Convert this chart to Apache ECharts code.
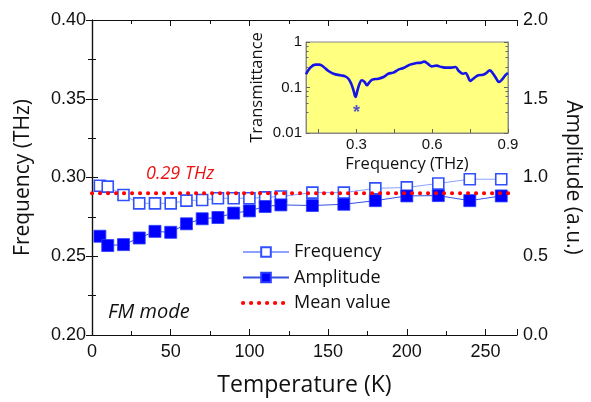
<!DOCTYPE html>
<html>
<head>
<meta charset="utf-8">
<script src="https://cdn.jsdelivr.net/npm/echarts@6/dist/echarts.min.js"></script>
<style>
html,body{margin:0;padding:0;background:#fff;}
#chart{width:591px;height:402px;}
</style>
</head>
<body>
<div id="chart"></div>
<script>
// Main chart data
var temperatures = [5, 10, 20, 30, 40, 50, 60, 70, 80, 90, 100, 110, 120, 140, 160, 180, 200, 220, 240, 260];
var frequency = [0.2948, 0.2942, 0.2889, 0.2836, 0.2836, 0.2836, 0.2853, 0.2857, 0.2868, 0.2868, 0.2868, 0.2874, 0.2879, 0.2904, 0.2904, 0.2931, 0.2937, 0.2962, 0.2989, 0.2989];
var amplitude = [0.627, 0.568, 0.574, 0.616, 0.658, 0.652, 0.706, 0.738, 0.746, 0.774, 0.788, 0.816, 0.826, 0.822, 0.830, 0.853, 0.883, 0.885, 0.853, 0.883];
var meanValue = 0.29;
var meanRange = [0, 266];
var freqTicks = [0.20, 0.25, 0.30, 0.35, 0.40];
var ampTicks = [0.0, 0.5, 1.0, 1.5, 2.0];
var tempTicks = [0, 50, 100, 150, 200, 250];

// Inset data
var insetFreq = [0.100, 0.117, 0.137, 0.153, 0.170, 0.189, 0.209, 0.236, 0.255, 0.268, 0.279, 0.288, 0.296, 0.304, 0.312, 0.321, 0.332, 0.341, 0.350, 0.363, 0.387, 0.407, 0.426, 0.446, 0.466, 0.486, 0.512, 0.538, 0.555, 0.568, 0.582, 0.597, 0.617, 0.637, 0.657, 0.676, 0.692, 0.705, 0.722, 0.732, 0.742, 0.750, 0.762, 0.782, 0.801, 0.814, 0.828, 0.841, 0.854, 0.864, 0.876, 0.889, 0.900];
var insetTrans = [0.195, 0.273, 0.318, 0.318, 0.282, 0.231, 0.201, 0.185, 0.176, 0.156, 0.121, 0.087, 0.062, 0.087, 0.121, 0.144, 0.132, 0.112, 0.128, 0.149, 0.156, 0.170, 0.201, 0.212, 0.247, 0.268, 0.318, 0.345, 0.351, 0.370, 0.334, 0.292, 0.302, 0.282, 0.273, 0.273, 0.282, 0.231, 0.201, 0.208, 0.170, 0.139, 0.156, 0.185, 0.191, 0.208, 0.238, 0.201, 0.156, 0.132, 0.149, 0.185, 0.208];
var insetXTicks = [0.3, 0.6, 0.9];
var insetXMinor = [0.15, 0.3, 0.45, 0.6, 0.75, 0.9];
var dipMark = [0.3, 0.036];

var chart = echarts.init(document.getElementById('chart'), null, {renderer: 'canvas'});

function zip(a, b) { return a.map(function (v, i) { return [v, b[i]]; }); }

var tickFont = 'Liberation Sans, Arial, sans-serif';
var titleFont = 'Open Sans, sans-serif';

var option = {
  backgroundColor: '#ffffff',
  animation: false,
  grid: [
    {left: 92, top: 20, width: 431, height: 318, containLabel: false},
    {left: 306, top: 42, width: 202, height: 91, show: true, backgroundColor: '#ffff80', borderColor: '#8a8a8a', borderWidth: 1, z: 5}
  ],
  legend: {
    orient: 'vertical',
    left: 236, top: 238,
    itemWidth: 46, itemHeight: 12, itemGap: 7.5,
    textStyle: {fontFamily: titleFont, fontSize: 18, color: '#111'},
    data: ['Frequency', 'Amplitude', {name: 'Mean value', itemStyle: {opacity: 0},
      lineStyle: {color: '#ff0000', width: 4, type: [0.1, 7.9], cap: 'round'}}]
  },
  xAxis: [
    {
      gridIndex: 0, type: 'value', min: 0, max: 270, interval: 50, position: 'bottom',
      name: 'Temperature (K)', nameLocation: 'middle', nameGap: 39,
      nameTextStyle: {fontFamily: titleFont, fontSize: 23, color: '#111'},
      axisLine: {lineStyle: {color: '#111', width: 1.2}},
      axisTick: {inside: true, length: 6, lineStyle: {color: '#111'}},
      minorTick: {show: true, splitNumber: 2, length: 4, lineStyle: {color: '#111'}},
      axisLabel: {fontFamily: tickFont, fontSize: 18, color: '#111', margin: 8,
        customValues: tempTicks},
      splitLine: {show: false}
    },
    {
      gridIndex: 0, type: 'value', min: 0, max: 270, interval: 50, position: 'top',
      axisLine: {lineStyle: {color: '#111', width: 1.2}},
      axisTick: {inside: true, length: 6, lineStyle: {color: '#111'}},
      minorTick: {show: true, splitNumber: 2, length: 4, lineStyle: {color: '#111'}},
      axisLabel: {show: false},
      splitLine: {show: false}
    },
    {
      gridIndex: 1, type: 'value', min: 0.1, max: 0.9, position: 'bottom',
      name: 'Frequency (THz)', nameLocation: 'middle', nameGap: 23,
      nameTextStyle: {fontFamily: titleFont, fontSize: 16.5, color: '#111'},
      axisLine: {lineStyle: {color: '#8a8a8a', width: 1}},
      axisTick: {inside: true, length: 4, lineStyle: {color: '#666'}, customValues: insetXMinor},
      axisLabel: {fontFamily: tickFont, fontSize: 15, color: '#111', margin: 4, customValues: insetXTicks},
      splitLine: {show: false}, z: 6
    }
  ],
  yAxis: [
    {
      gridIndex: 0, type: 'value', min: 0.2, max: 0.4, interval: 0.05, position: 'left',
      name: 'Frequency (THz)', nameLocation: 'middle', nameGap: 58, nameRotate: 90,
      nameTextStyle: {fontFamily: titleFont, fontSize: 21, color: '#111'},
      axisLine: {show: true, lineStyle: {color: '#111', width: 1.2}},
      axisTick: {inside: true, length: 6, lineStyle: {color: '#111'}},
      minorTick: {show: true, splitNumber: 2, length: 4, lineStyle: {color: '#111'}},
      axisLabel: {fontFamily: tickFont, fontSize: 18, color: '#111', margin: 6,
        customValues: freqTicks, formatter: function (v) { return v.toFixed(2); }},
      splitLine: {show: false}
    },
    {
      gridIndex: 0, type: 'value', min: 0, max: 2, interval: 0.5, position: 'right',
      name: 'Amplitude (a.u.)', nameLocation: 'middle', nameGap: 45, nameRotate: -90,
      nameTextStyle: {fontFamily: titleFont, fontSize: 21, color: '#111'},
      axisLine: {show: true, lineStyle: {color: '#111', width: 1.2}},
      axisTick: {inside: true, length: 6, lineStyle: {color: '#111'}},
      minorTick: {show: true, splitNumber: 2, length: 4, lineStyle: {color: '#111'}},
      axisLabel: {fontFamily: tickFont, fontSize: 18, color: '#111', margin: 6,
        customValues: ampTicks, formatter: function (v) { return v.toFixed(1); }},
      splitLine: {show: false}
    },
    {
      gridIndex: 1, type: 'log', min: 0.01, max: 1, logBase: 10, position: 'left',
      name: 'Transmittance', nameLocation: 'middle', nameGap: 40, nameRotate: 90,
      nameTextStyle: {fontFamily: titleFont, fontSize: 16.5, color: '#111'},
      axisLine: {show: true, lineStyle: {color: '#8a8a8a', width: 1}},
      axisTick: {inside: true, length: 4, lineStyle: {color: '#666'}},
      minorTick: {show: true, splitNumber: 5, length: 2.5, lineStyle: {color: '#666'}},
      axisLabel: {fontFamily: tickFont, fontSize: 15, color: '#111', margin: 4},
      splitLine: {show: false}, z: 6
    },
    {
      gridIndex: 1, type: 'log', min: 0.01, max: 1, logBase: 10, position: 'right',
      axisLine: {show: true, lineStyle: {color: '#8a8a8a', width: 1}},
      axisTick: {inside: true, length: 4, lineStyle: {color: '#666'}},
      minorTick: {show: true, splitNumber: 5, length: 2.5, lineStyle: {color: '#666'}},
      axisLabel: {show: false},
      splitLine: {show: false}, z: 6
    }
  ],
  series: [
    {
      name: 'Frequency', type: 'line', xAxisIndex: 0, yAxisIndex: 0,
      data: zip(temperatures, frequency),
      symbol: 'rect', symbolSize: 11,
      itemStyle: {color: '#ffffff', borderColor: '#3050ff', borderWidth: 1.6},
      lineStyle: {color: '#8da2ff', width: 1},
      z: 3
    },
    {
      name: 'Amplitude', type: 'line', xAxisIndex: 0, yAxisIndex: 1,
      data: zip(temperatures, amplitude),
      symbol: 'rect', symbolSize: 12,
      itemStyle: {color: '#0000ff', borderColor: '#2a3cff', borderWidth: 0.8},
      lineStyle: {color: '#3550e0', width: 1},
      z: 3
    },
    {
      name: 'Mean value', type: 'line', xAxisIndex: 0, yAxisIndex: 0,
      data: [[meanRange[0], meanValue], [meanRange[1], meanValue]],
      symbol: 'none',
      itemStyle: {color: '#ff0000'},
      lineStyle: {color: '#ff0000', width: 4, type: [0.1, 7.9], cap: 'round'},
      z: 4
    },
    {
      name: 'Transmittance', type: 'line', xAxisIndex: 2, yAxisIndex: 2,
      data: zip(insetFreq, insetTrans),
      smooth: 0.4, showSymbol: false, symbol: 'none',
      lineStyle: {color: '#1414e8', width: 2.6},
      z: 10
    },
    {
      name: 'dip', type: 'scatter', xAxisIndex: 2, yAxisIndex: 2,
      data: [dipMark], symbolSize: 1, itemStyle: {color: 'rgba(0,0,0,0)'},
      label: {show: true, position: 'inside', formatter: '*', fontFamily: tickFont, fontSize: 18, fontWeight: 'bold', color: '#2a2ad8', offset: [0, 5]},
      z: 10
    }
  ],
  graphic: [
    {type: 'text', left: 146, top: 165, z: 20,
      style: {text: '0.29 THz', fontFamily: titleFont, fontStyle: 'italic', fontSize: 18, fill: '#ee1111'}},
    {type: 'text', left: 108, top: 302, z: 20,
      style: {text: 'FM mode', fontFamily: titleFont, fontStyle: 'italic', fontSize: 20, fill: '#111'}}
  ]
};
chart.setOption(option);
</script>
</body>
</html>
